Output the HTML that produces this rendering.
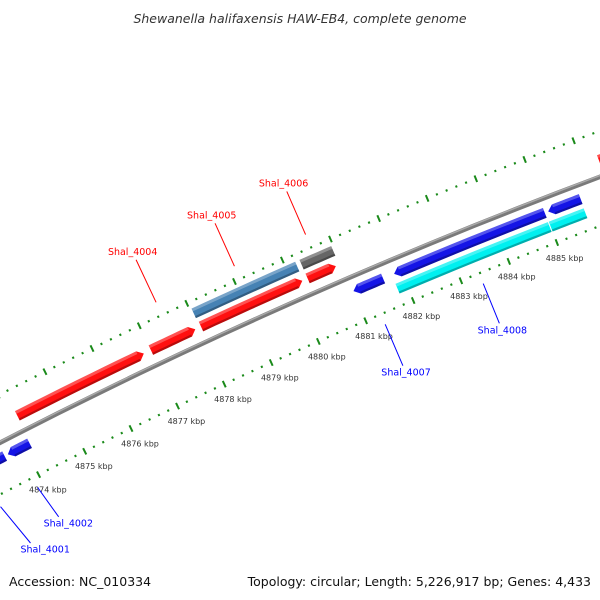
<!DOCTYPE html>
<html><head><meta charset="utf-8"><style>
html,body{margin:0;padding:0;background:#fff;overflow:hidden;width:600px;height:600px;}
svg{display:block;font-family:"DejaVu Sans","Liberation Sans",sans-serif;}
</style></head><body>
<svg id="map" width="600" height="600" viewBox="0 0 600 600" xmlns="http://www.w3.org/2000/svg">
<rect x="0" y="0" width="600" height="600" fill="#fff"/>
<g id="rings"></g>
<g id="backbone"></g>
<g id="features"></g>
<g id="ticklabels"></g>
<g id="labels"></g>
<text x="300" y="23" text-anchor="middle" font-size="12.5" font-style="italic" fill="#333">Shewanella halifaxensis HAW-EB4, complete genome</text>
<text x="9" y="586" font-size="12.5" fill="#111">Accession: NC_010334</text>
<text x="591" y="586" text-anchor="end" font-size="12.5" fill="#111">Topology: circular; Length: 5,226,917 bp; Genes: 4,433</text>
</svg>
<script>
// ---- data (kbp) ----
const featStart  = [4872.90, 4873.65, 4874.15, 4877.00, 4878.06, 4880.30, 4886.32, 4878.04, 4880.30, 4881.01, 4881.86, 4885.06, 4881.81, 4885.00];
const featEnd    = [4873.58, 4874.12, 4876.85, 4877.94, 4880.19, 4880.89, 4887.60, 4880.21, 4880.96, 4881.63, 4884.99, 4885.73, 4884.98, 4885.72];
const featLane   = ["r1","r1","f1","f1","f1","f1","f1","f2","f2","r1","r1","r1","r2","r2"];
const featArrow  = [-1,-1,1,1,1,1,1,0,0,-1,-1,-1,0,0];
const featColor  = ["#1414e6","#1414e6","#ff1010","#ff1010","#ff1010","#ff1010","#ff1010","#4682b4","#666666","#1414e6","#1414e6","#1414e6","#00f0f0","#00f0f0"];
const labelNames = ["Shal_4001","Shal_4002","Shal_4004","Shal_4005","Shal_4006","Shal_4007","Shal_4008"];
const labelBp    = [4873.06, 4873.87, 4877.48, 4879.12, 4880.60, 4881.32, 4883.38];
const labelSide  = [-1,-1,1,1,1,-1,-1];
const labelLen   = [41,33,47,47,47,45,43];
const labelShift = [22,12,0,0,0,0,0];
const labelColor = ["#0000ff","#0000ff","#ff0000","#ff0000","#ff0000","#0000ff","#0000ff"];
const tickMajorKbp = [4874,4875,4876,4877,4878,4879,4880,4881,4882,4883,4884,4885];

// ---- geometry ----
const NS="http://www.w3.org/2000/svg";
const cx=2573, cy=5438;
const R_BACK=5619, R_IN=5573, R_OUT=5662;
const laneR={f1:5635,f2:5650,r1:5605,r2:5590};
const LANE_W=10.5;
function ang(bp){return (-117.05+(bp-4874)*0.531)*Math.PI/180;}
function pt(bp,r){const a=ang(bp);return [cx+r*Math.cos(a),cy+r*Math.sin(a)];}
function mk(tag,attrs,parent){const e=document.createElementNS(NS,tag);for(const k in attrs)e.setAttribute(k,attrs[k]);parent.appendChild(e);return e;}
function arcPts(s,e,r,n){const p=[];for(let i=0;i<=n;i++){p.push(pt(s+(e-s)*i/n,r));}return p;}
function fmt(p){return p.map(q=>q[0].toFixed(2)+","+q[1].toFixed(2)).join(" ");}
const pxPerKbp=R_BACK*0.531*Math.PI/180;

// rings
const rings=document.getElementById('rings');
[R_IN,R_OUT].forEach((R,ri)=>{
  for(let k=4866*5;k<=4892*5;k++){
    const bp=k/5; const major=(k%5===0);
    const h=major?3.5:1.1;
    const a=pt(bp,R-h), b=pt(bp,R+h);
    const l=mk('line',{x1:a[0],y1:a[1],x2:b[0],y2:b[1],stroke:'#1a8a1a','stroke-width':2},rings);
    
    
  }
});

// backbone
const bb=document.getElementById('backbone');
const b1=mk('polyline',{points:fmt(arcPts(4860,4895,R_BACK,40)),fill:'none',stroke:'#7a7a7a','stroke-width':4.6},bb);


const b2=mk('polyline',{points:fmt(arcPts(4860,4895,R_BACK+1.2,40)),fill:'none',stroke:'#aaaaaa','stroke-width':1.4},bb);



// features
const fg=document.getElementById('features');
const head=6/pxPerKbp;
for(let i=0;i<featStart.length;i++){
  const s=featStart[i], e=featEnd[i], r=laneR[featLane[i]], w=LANE_W, dir=featArrow[i];
  let pts;
  if(dir===1){
    const be=Math.max(s,e-head);
    pts=arcPts(s,be,r+w/2,8).concat([pt(e,r)]).concat(arcPts(be,s,r-w/2,8));
  } else if(dir===-1){
    const bs=Math.min(e,s+head);
    pts=[pt(s,r)].concat(arcPts(bs,e,r+w/2,8)).concat(arcPts(e,bs,r-w/2,8));
  } else {
    pts=arcPts(s,e,r+w/2,8).concat(arcPts(e,s,r-w/2,8));
  }
  const g=mk('g',{},fg);
  
  
  const p=mk('polygon',{points:fmt(pts),fill:featColor[i]},g);
  
  
  const bs2=dir===-1?s+head:s, be2=dir===1?e-head:e;
  const hi=mk('polygon',{points:fmt(arcPts(bs2,be2,r+w/2,8).concat(arcPts(be2,bs2,r+w/2-3,8))),fill:'#fff','fill-opacity':0.28},g);
  
  
  const sh=mk('polygon',{points:fmt(arcPts(bs2,be2,r-w/2+2.2,8).concat(arcPts(be2,bs2,r-w/2,8))),fill:'#000','fill-opacity':0.28},g);
  
  
}

// tick labels
const tl=document.getElementById('ticklabels');
tickMajorKbp.forEach(k=>{
  const p=pt(k,R_IN-16);
  const t=mk('text',{x:p[0]+2,y:p[1]+1,'text-anchor':'middle','dominant-baseline':'central','font-size':8,fill:'#333'},tl);
  t.textContent=k+' kbp';
  
  
});

// feature labels
const lg=document.getElementById('labels');
for(let i=0;i<labelNames.length;i++){
  const side=labelSide[i];
  const r0=side===1?5676:5562;
  const r1=r0+side*labelLen[i];
  const a=pt(labelBp[i],r0), b=pt(labelBp[i],r1), c=pt(labelBp[i],r1+side*8);
  const sh=labelShift[i];
  const l=mk('line',{x1:a[0],y1:a[1],x2:b[0]+sh*0.5,y2:b[1],stroke:labelColor[i],'stroke-width':1},lg);
  
  
  const t=mk('text',{x:c[0]+sh,y:c[1],'text-anchor':'middle','dominant-baseline':'central','font-size':9.5,fill:labelColor[i]},lg);
  t.textContent=labelNames[i];
  
  
}
</script>
</body></html>
